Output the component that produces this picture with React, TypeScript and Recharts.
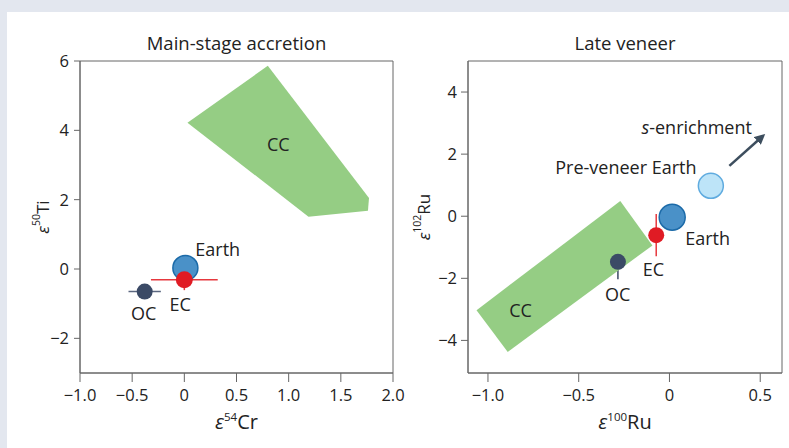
import React from "react";
import { ScatterChart, Scatter, XAxis, YAxis, ErrorBar, ReferenceArea, Label } from "recharts";

const FONT = '"Open Sans", "Noto Sans", sans-serif';
const INK = "#222";
const AXIS = "#666";

// ---- left panel: main-stage accretion (ε54Cr vs ε50Ti)
const crTicks = [-1, -0.5, 0, 0.5, 1, 1.5, 2];
const tiTicks = [-2, 0, 2, 4, 6];
const ccMain = [
  { x: 0.03, y: 4.22 },
  { x: 0.8, y: 5.86 },
  { x: 1.77, y: 2.05 },
  { x: 1.76, y: 1.68 },
  { x: 1.19, y: 1.51 },
];
const earthMain = [{ x: 0.01, y: 0.03 }];
const ecMain = [{ x: 0, y: -0.31, ex: 0.32, ey: 0.3 }];
const ocMain = [{ x: -0.38, y: -0.65, ex: 0.155 }];
const mainLabels = [
  { x: 0.9, y: 3.6, text: "CC" },
  { x: 0.32, y: 0.58, text: "Earth" },
  { x: -0.04, y: -1.02, text: "EC" },
  { x: -0.39, y: -1.28, text: "OC" },
];

// ---- right panel: late veneer (ε100Ru vs ε102Ru)
const ru100Ticks = [-1, -0.5, 0, 0.5];
const ru102Ticks = [-4, -2, 0, 2, 4];
const ccLate = [
  { x: -1.063, y: -3.03 },
  { x: -0.271, y: 0.49 },
  { x: -0.094, y: -0.94 },
  { x: -0.891, y: -4.37 },
];
const ocLate = [{ x: -0.284, y: -1.47, ey: [0.56, 0.64] }];
const ecLate = [{ x: -0.073, y: -0.61, ey: 0.68 }];
const earthLate = [{ x: 0.015, y: -0.03 }];
const preVeneer = [{ x: 0.228, y: 0.98 }];
const sArrow = [
  { x: 0.33, y: 1.62 },
  { x: 0.51, y: 2.56 },
];
const lateLabels = [
  { x: -0.82, y: -3.03, text: "CC" },
  { x: 0.15, y: 2.86, text: "s-enrichment" },
  { x: -0.24, y: 1.57, text: "Pre-veneer Earth" },
  { x: 0.21, y: -0.69, text: "Earth" },
  { x: -0.088, y: -1.71, text: "EC" },
  { x: -0.286, y: -2.52, text: "OC" },
];

const fmtTick = (v: number) => {
  const s = Math.abs(v) < 1e-9 ? "0" : v.toFixed(1);
  return s.replace("-", "\u2212");
};
const fmtInt = (v: number) => String(v).replace("-", "\u2212");

const nothing = () => <g />;

const dot = (r: number, fill: string, stroke?: string) => (p: any) =>
  <circle cx={p.cx} cy={p.cy} r={r} fill={fill} stroke={stroke ?? "none"} strokeWidth={1.5} />;

const labelShape = (p: any) => {
  const t: string = p.payload.text;
  return (
    <text x={p.cx} y={p.cy} textAnchor="middle" dominantBaseline="central" fontSize={18} fill={INK} fontFamily={FONT}>
      {t.startsWith("s-") ? (
        <>
          <tspan fontStyle="italic">s</tspan>
          <tspan>{t.slice(1)}</tspan>
        </>
      ) : (
        t
      )}
    </text>
  );
};

const xLabel = (mass: string, el: string) => (props: any) => {
  const vb = props.viewBox;
  return (
    <text x={vb.x + vb.width / 2} y={vb.y + 56} textAnchor="middle" fontSize={20} fill={INK} fontFamily={FONT}>
      <tspan fontStyle="italic">ε</tspan>
      <tspan fontSize={11.5} dy={-8}>{mass}</tspan>
      <tspan dy={8}>{el}</tspan>
    </text>
  );
};

const yLabel = (mass: string, el: string, dx: number) => (props: any) => {
  const vb = props.viewBox;
  const x = vb.x + dx;
  const y = vb.y + vb.height / 2;
  return (
    <text x={x} y={y} transform={`rotate(-90, ${x}, ${y})`} textAnchor="middle" dominantBaseline="central" fontSize={17} fill={INK} fontFamily={FONT}>
      <tspan fontStyle="italic">ε</tspan>
      <tspan fontSize={10.5} dy={-6}>{mass}</tspan>
      <tspan dy={6}>{el}</tspan>
    </text>
  );
};

const tickStyle = { fill: INK, fontSize: 16.5, fontFamily: FONT };

const Title = ({ left, width, children }: { left: number; width: number; children: React.ReactNode }) => (
  <div style={{ position: "absolute", left, width, top: 31, lineHeight: "24px", textAlign: "center", fontSize: 18.5, color: INK }}>
    {children}
  </div>
);

export default function App() {
  return (
    <div style={{ position: "fixed", left: 0, top: 0, width: 789, height: 448, background: "#e3e7ef", fontFamily: FONT, overflow: "hidden" }}>
      <div style={{ position: "absolute", left: 7, top: 12, right: 0, bottom: 0, background: "#fff" }} />
      <Title left={80} width={313}>Main-stage accretion</Title>
      <Title left={468} width={314}>Late veneer</Title>

      <div style={{ position: "absolute", left: 0, top: 0 }}>
        <ScatterChart width={420} height={448} margin={{ top: 61, right: 27, bottom: 35, left: 20 }}>
          <XAxis type="number" dataKey="x" domain={[-1, 2]} ticks={crTicks} allowDataOverflow height={40}
            tickFormatter={fmtTick} tick={tickStyle} tickSize={9} tickMargin={7}
            axisLine={{ stroke: AXIS }} tickLine={{ stroke: AXIS }}>
            <Label content={xLabel("54", "Cr")} />
          </XAxis>
          <YAxis type="number" dataKey="y" domain={[-3, 6]} ticks={tiTicks} allowDataOverflow width={60}
            tickFormatter={fmtInt} tick={tickStyle} tickSize={6} tickMargin={5}
            axisLine={{ stroke: AXIS }} tickLine={{ stroke: AXIS }}>
            <Label content={yLabel("50", "Ti", 22)} />
          </YAxis>
          <ReferenceArea x1={-1} x2={2} y1={-3} y2={6} fill="none" stroke={AXIS} strokeWidth={1} />
          <Scatter data={ccMain} fill="#95cd84" line={{ fill: "#95cd84", stroke: "none" }} shape={nothing} isAnimationActive={false} />
          <Scatter data={earthMain} shape={dot(12.5, "#4a91c8", "#1b6aa8")} isAnimationActive={false} />
          <Scatter data={ocMain} shape={dot(8, "#3b4a66")} isAnimationActive={false}>
            <ErrorBar dataKey="ex" direction="x" width={0} stroke="#5b6780" strokeWidth={1.5} />
          </Scatter>
          <Scatter data={ecMain} shape={dot(8.5, "#e01b24")} isAnimationActive={false}>
            <ErrorBar dataKey="ex" direction="x" width={0} stroke="#e6383e" strokeWidth={1.5} />
            <ErrorBar dataKey="ey" direction="y" width={0} stroke="#e6383e" strokeWidth={1.5} />
          </Scatter>
          <Scatter data={mainLabels} shape={labelShape} isAnimationActive={false} />
        </ScatterChart>
      </div>

      <div style={{ position: "absolute", left: 400, top: 0 }}>
        <ScatterChart width={389} height={448} margin={{ top: 61, right: 7, bottom: 35, left: 28 }}>
          <defs>
            <marker id="sArrowHead" viewBox="0 0 10 10" refX="6" refY="5" markerWidth="4.2" markerHeight="4.2" orient="auto" markerUnits="strokeWidth">
              <path d="M0,0 L10,5 L0,10 z" fill="#3d4e5e" />
            </marker>
          </defs>
          <XAxis type="number" dataKey="x" domain={[-1.11, 0.62]} ticks={ru100Ticks} allowDataOverflow height={40}
            tickFormatter={fmtTick} tick={tickStyle} tickSize={9} tickMargin={7}
            axisLine={{ stroke: AXIS }} tickLine={{ stroke: AXIS }}>
            <Label content={xLabel("100", "Ru")} />
          </XAxis>
          <YAxis type="number" dataKey="y" domain={[-5.05, 5]} ticks={ru102Ticks} allowDataOverflow width={40}
            tickFormatter={fmtInt} tick={tickStyle} tickSize={7} tickMargin={4}
            axisLine={{ stroke: AXIS }} tickLine={{ stroke: AXIS }}>
            <Label content={yLabel("102", "Ru", -5)} />
          </YAxis>
          <ReferenceArea x1={-1.11} x2={0.62} y1={-5.05} y2={5} fill="none" stroke={AXIS} strokeWidth={1} />
          <Scatter data={ccLate} fill="#95cd84" line={{ fill: "#95cd84", stroke: "none" }} shape={nothing} isAnimationActive={false} />
          <Scatter data={sArrow} fill="#3d4e5e" line={{ stroke: "#3d4e5e", strokeWidth: 2.5, markerEnd: "url(#sArrowHead)" }} shape={nothing} isAnimationActive={false} />
          <Scatter data={preVeneer} shape={dot(12.5, "#bde4f8", "#5fabdf")} isAnimationActive={false} />
          <Scatter data={earthLate} shape={dot(13, "#4a91c8", "#1b6aa8")} isAnimationActive={false} />
          <Scatter data={ocLate} shape={dot(8, "#3b4a66")} isAnimationActive={false}>
            <ErrorBar dataKey="ey" direction="y" width={0} stroke="#3b4a66" strokeWidth={1.5} />
          </Scatter>
          <Scatter data={ecLate} shape={dot(8, "#e01b24")} isAnimationActive={false}>
            <ErrorBar dataKey="ey" direction="y" width={0} stroke="#e6383e" strokeWidth={1.5} />
          </Scatter>
          <Scatter data={lateLabels} shape={labelShape} isAnimationActive={false} />
        </ScatterChart>
      </div>
    </div>
  );
}
